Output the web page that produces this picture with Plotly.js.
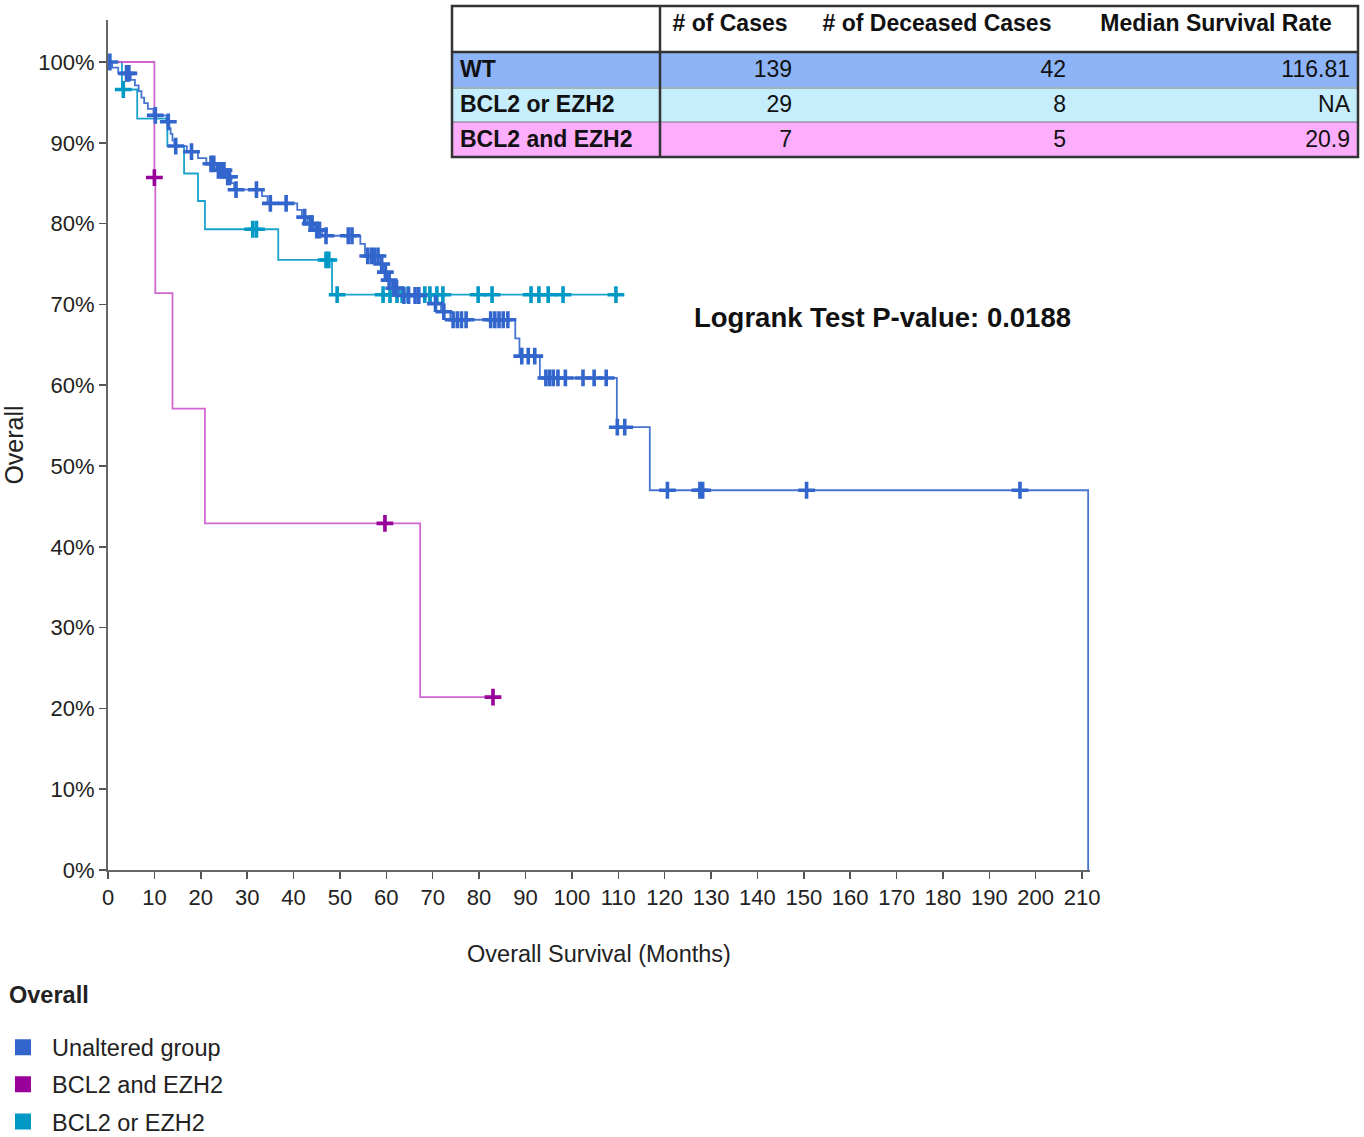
<!DOCTYPE html>
<html>
<head>
<meta charset="utf-8">
<script src="https://cdn.plot.ly/plotly-3.0.1.min.js"></script>
<style>html,body{margin:0;padding:0;background:#fff;}#chart{width:1364px;height:1137px;}</style>
</head>
<body>
<div id="chart"></div>
<script>
// ---------- Data ----------
const legendTitle = 'Overall';
const groupNames = ['Unaltered group', 'BCL2 and EZH2', 'BCL2 or EZH2'];

// Unaltered (WT) step curve: time (months) and survival (%)
const wtTime = [0, 0.9, 2.2, 4.9, 5.8, 6.6, 7.2, 7.8, 8.6, 9.8, 12.6, 13.2, 13.5, 13.9, 14.3, 17.0, 19.4, 21.2, 23.4, 25.4, 26.6, 27.2,
  33.2, 34.4, 40.8, 41.8, 43.0, 44.4, 46.2, 54.4, 55.4, 58.8, 59.5, 60.2, 61.2, 62.8, 69.6, 71.8, 73.8,
  87.8, 88.7, 93.1, 109.7, 116.8, 211.3];
const wtSurv = [100, 99.3, 98.6, 97.8, 97.1, 96.4, 95.6, 94.9, 94.2, 93.4, 92.6, 91.8, 91.1, 90.3, 89.6, 88.9, 88.1, 87.4, 86.6, 85.8, 85.0, 84.2,
  83.4, 82.5, 81.7, 80.8, 80.0, 79.2, 78.5, 77.5, 76.0, 75.0, 74.0, 73.0, 72.0, 71.1, 70.1, 69.1, 68.1,
  65.8, 63.6, 60.9, 54.8, 47.0, 0];
const wtCensTime = [0.4, 4.0, 4.5, 10.2, 13.0, 14.6, 18.0, 22.2, 22.8, 23.8, 24.4, 25.0, 25.8, 26.2, 27.6, 32.0, 35.0, 38.4,
  42.4, 43.6, 44.0, 45.0, 45.6, 47.0, 51.8, 52.6, 56.0, 56.8, 57.4, 58.2, 59.0, 59.8, 60.6, 61.6, 62.2,
  63.8, 64.8, 66.2, 67.0, 70.6, 72.4, 74.4, 75.3, 76.2, 77.2, 82.5, 83.4, 84.3, 85.2, 86.2,
  89.2, 90.6, 92.0, 94.4, 95.2, 96.0, 97.0, 98.6, 102.4, 104.8, 107.4, 109.8, 111.4,
  120.6, 127.6, 128.2, 150.6, 196.6];
const wtCensSurv = [100, 98.6, 98.6, 93.4, 92.6, 89.6, 88.9, 87.4, 87.4, 86.6, 86.6, 86.6, 85.8, 85.8, 84.2, 84.2, 82.5, 82.5,
  80.8, 80.0, 80.0, 79.2, 79.2, 78.5, 78.5, 78.5, 76.0, 76.0, 76.0, 76.0, 75.0, 74.0, 73.0, 72.0, 72.0,
  71.1, 71.1, 71.1, 71.1, 70.1, 69.1, 68.1, 68.1, 68.1, 68.1, 68.1, 68.1, 68.1, 68.1, 68.1,
  63.6, 63.6, 63.6, 60.9, 60.9, 60.9, 60.9, 60.9, 60.9, 60.9, 60.9, 54.8, 54.8,
  47.0, 47.0, 47.0, 47.0, 47.0];

// BCL2 and EZH2
const andTime = [0, 10.0, 10.2, 13.9, 20.9, 67.3, 83.0];
const andSurv = [100, 85.7, 71.4, 57.1, 42.9, 21.4, 21.4];
const andCensTime = [10.0, 59.7, 83.0];
const andCensSurv = [85.7, 42.9, 21.4];

// BCL2 or EZH2
const orTime = [0, 3.0, 6.3, 12.8, 16.4, 19.4, 20.9, 36.7, 48.3, 109.5];
const orSurv = [100, 96.6, 93.0, 89.6, 86.2, 82.8, 79.3, 75.5, 71.2, 71.2];
const orCensTime = [3.3, 31.2, 32.0, 47.0, 47.6, 49.4, 59.3, 60.8, 62.3, 63.4, 64.7, 68.3, 69.4, 70.9, 72.2, 79.8, 82.8, 91.2, 92.9, 94.9, 98.1, 109.5];
const orCensSurv = [96.6, 79.3, 79.3, 75.5, 75.5, 71.2, 71.2, 71.2, 71.2, 71.2, 71.2, 71.2, 71.2, 71.2, 71.2, 71.2, 71.2, 71.2, 71.2, 71.2, 71.2, 71.2];

// Summary table
const tableHeader = ['', '# of Cases', '# of Deceased Cases', 'Median Survival Rate'];
const tableGroups = ['WT', 'BCL2 or EZH2', 'BCL2 and EZH2'];
const tableCases = [139, 29, 7];
const tableDeceased = [42, 8, 5];
const tableMedian = ['116.81', 'NA', '20.9'];

const pValueText = 'Logrank Test P-value: 0.0188';

// ---------- Styles ----------
const W = 1364, H = 1137;
const px = v => v / W;
const py = v => 1 - v / H;
const FONT = 'Liberation Sans, Arial, Helvetica, sans-serif';
const cBlue = '#3366cc', cPurple = '#990099', cCyan = '#0099c6';
const lineBlue = 'rgba(51,102,204,0.9)', linePurple = 'rgba(204,85,204,0.9)', lineCyan = 'rgba(0,153,198,0.9)';
const rowFill = ['#8db4f7', '#c5edfc', '#fcadfc'];
const nb = s => String(s).replace(/ /g, '\u00a0'); // keep cell on one line

function stepTrace(x, y, color) {
  return {type: 'scatter', mode: 'lines', x: x, y: y, line: {shape: 'hv', color: color, width: 1.8},
    showlegend: false, hoverinfo: 'skip'};
}
function censTrace(x, y, color) {
  return {type: 'scatter', mode: 'markers', x: x, y: y,
    marker: {symbol: 'cross-thin', size: 12, color: color, line: {color: color, width: 3.6}},
    showlegend: false, hoverinfo: 'skip'};
}
function legendTrace(name, color, grp) {
  return {type: 'scatter', mode: 'markers', x: [null], y: [null], name: name, legendgroup: grp,
    marker: {symbol: 'square', size: 17, color: color}, showlegend: true};
}

const traces = [
  {
    type: 'table',
    domain: {x: [px(452), px(1358)], y: [py(157), py(6)]},
    columnwidth: [208, 140, 274, 284],
    header: {
      values: tableHeader.map(nb),
      align: ['left', 'center', 'center', 'center'],
      fill: {color: '#ffffff'}, line: {color: '#ffffff', width: 0},
      height: 46, font: {family: FONT, size: 23, color: '#111', weight: 'bold'}
    },
    cells: {
      values: [tableGroups.map(nb), tableCases, tableDeceased, tableMedian],
      align: ['left', 'right', 'right', 'right'],
      fill: {color: [rowFill, rowFill, rowFill, rowFill]},
      line: {color: [rowFill, rowFill, rowFill, rowFill], width: 1},
      height: 35, font: {family: FONT, size: 23, color: '#111', weight: ['bold', 'normal', 'normal', 'normal']}
    }
  },
  stepTrace(orTime, orSurv, lineCyan),
  stepTrace(wtTime, wtSurv, lineBlue),
  stepTrace(andTime, andSurv, linePurple),
  censTrace(orCensTime, orCensSurv, cCyan),
  censTrace(wtCensTime, wtCensSurv, cBlue),
  censTrace(andCensTime, andCensSurv, cPurple),
  legendTrace(groupNames[0], cBlue, 'a'),
  legendTrace(groupNames[1], cPurple, 'b'),
  legendTrace(groupNames[2], cCyan, 'c')
];

const layout = {
  width: W, height: H,
  margin: {l: 0, r: 0, t: 0, b: 0, autoexpand: false},
  paper_bgcolor: '#fff', plot_bgcolor: '#fff',
  font: {family: FONT, color: '#222', size: 22},
  xaxis: {
    domain: [px(108), px(1090)], range: [0, 211.7], tick0: 0, dtick: 10,
    ticks: 'outside', ticklen: 7, tickwidth: 1.5, tickcolor: '#555',
    showline: true, linecolor: '#666', linewidth: 2, showgrid: false, zeroline: false,
    tickfont: {size: 22, color: '#222'},
    title: {text: 'Overall Survival (Months)', font: {size: 23.5, color: '#222'}, standoff: 36}
  },
  yaxis: {
    domain: [py(870), py(20)], range: [0, 105.2], tick0: 0, dtick: 10, ticksuffix: '%',
    ticks: 'outside', ticklen: 7, tickwidth: 1.5, tickcolor: '#555',
    showline: true, linecolor: '#666', linewidth: 2, showgrid: false, zeroline: false,
    tickfont: {size: 22, color: '#222'},
    title: {text: 'Overall', font: {size: 25, color: '#222'}, standoff: 10}
  },
  legend: {
    x: -0.0044, y: py(1025.5), xanchor: 'left', yanchor: 'top',
    traceorder: 'grouped', tracegroupgap: 3.5, itemwidth: 48,
    font: {size: 23.5, color: '#222'}, bgcolor: 'rgba(0,0,0,0)', itemclick: false
  },
  annotations: [
    {xref: 'paper', yref: 'paper', x: px(882), y: py(318), xanchor: 'center', yanchor: 'middle',
     text: '<b>' + pValueText + '</b>', showarrow: false, font: {size: 27.5, color: '#111'}},
    {xref: 'paper', yref: 'paper', x: px(7), y: py(995), xanchor: 'left', yanchor: 'middle',
     text: '<b>' + legendTitle + '</b>', showarrow: false, font: {size: 23.5, color: '#222'}}
  ],
  shapes: [
    {type: 'line', xref: 'paper', yref: 'paper', x0: px(452), x1: px(1358), y0: py(88), y1: py(88), line: {color: '#777', width: 1}},
    {type: 'line', xref: 'paper', yref: 'paper', x0: px(452), x1: px(1358), y0: py(122), y1: py(122), line: {color: '#777', width: 1}},
    {type: 'line', xref: 'paper', yref: 'paper', x0: px(452), x1: px(1358), y0: py(52), y1: py(52), line: {color: '#333', width: 2.5}},
    {type: 'line', xref: 'paper', yref: 'paper', x0: px(660), x1: px(660), y0: py(157), y1: py(6), line: {color: '#333', width: 2.5}},
    {type: 'rect', xref: 'paper', yref: 'paper', x0: px(452), x1: px(1358), y0: py(157), y1: py(6), line: {color: '#333', width: 2.5}}
  ]
};

Plotly.newPlot('chart', traces, layout, {displayModeBar: false, staticPlot: true});
</script>
</body>
</html>
